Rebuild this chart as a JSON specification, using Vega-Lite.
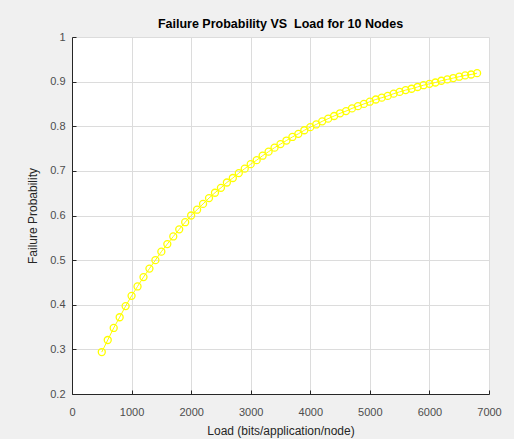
{
  "$schema": "https://vega.github.io/schema/vega-lite/v6.json",
  "autosize": "none",
  "padding": {"left": 72, "top": 37, "right": 25, "bottom": 45},
  "width": 417,
  "height": 357,
  "background": "#f0f0f0",
  "title": {
    "text": "Failure Probability VS\u00a0 Load for 10 Nodes",
    "font": "Liberation Sans",
    "fontSize": 12.5,
    "fontWeight": "bold",
    "color": "#000000",
    "anchor": "middle",
    "offset": 1
  },
  "config": {
    "view": {"fill": "#ffffff", "stroke": null},
    "axis": {
      "labelFont": "Liberation Sans",
      "titleFont": "Liberation Sans",
      "labelFontSize": 11,
      "titleFontSize": 12,
      "titleFontWeight": "normal",
      "labelColor": "#4d4d4d",
      "titleColor": "#262626",
      "domainColor": "#262626",
      "domainWidth": 1,
      "tickColor": "#262626",
      "tickSize": -4,
      "labelFlush": false,
      "gridColor": "#dcdcdc",
      "gridWidth": 1
    }
  },
  "data": {
    "values": [
      {"load": 500, "p": 0.294}, {"load": 600, "p": 0.321}, {"load": 700, "p": 0.348},
      {"load": 800, "p": 0.372}, {"load": 900, "p": 0.397}, {"load": 1000, "p": 0.420},
      {"load": 1100, "p": 0.441}, {"load": 1200, "p": 0.462}, {"load": 1300, "p": 0.481},
      {"load": 1400, "p": 0.500}, {"load": 1500, "p": 0.519}, {"load": 1600, "p": 0.536},
      {"load": 1700, "p": 0.553}, {"load": 1800, "p": 0.569}, {"load": 1900, "p": 0.585},
      {"load": 2000, "p": 0.600}, {"load": 2100, "p": 0.613}, {"load": 2200, "p": 0.626},
      {"load": 2300, "p": 0.639}, {"load": 2400, "p": 0.651}, {"load": 2500, "p": 0.662},
      {"load": 2600, "p": 0.674}, {"load": 2700, "p": 0.684}, {"load": 2800, "p": 0.695},
      {"load": 2900, "p": 0.705}, {"load": 3000, "p": 0.715}, {"load": 3100, "p": 0.724},
      {"load": 3200, "p": 0.734}, {"load": 3300, "p": 0.743}, {"load": 3400, "p": 0.752},
      {"load": 3500, "p": 0.760}, {"load": 3600, "p": 0.768}, {"load": 3700, "p": 0.776},
      {"load": 3800, "p": 0.783}, {"load": 3900, "p": 0.791}, {"load": 4000, "p": 0.798},
      {"load": 4100, "p": 0.804}, {"load": 4200, "p": 0.811}, {"load": 4300, "p": 0.817},
      {"load": 4400, "p": 0.823}, {"load": 4500, "p": 0.829}, {"load": 4600, "p": 0.834},
      {"load": 4700, "p": 0.840}, {"load": 4800, "p": 0.845}, {"load": 4900, "p": 0.850},
      {"load": 5000, "p": 0.855}, {"load": 5100, "p": 0.860}, {"load": 5200, "p": 0.864},
      {"load": 5300, "p": 0.868}, {"load": 5400, "p": 0.873}, {"load": 5500, "p": 0.877},
      {"load": 5600, "p": 0.881}, {"load": 5700, "p": 0.884}, {"load": 5800, "p": 0.888},
      {"load": 5900, "p": 0.892}, {"load": 6000, "p": 0.895}, {"load": 6100, "p": 0.898},
      {"load": 6200, "p": 0.902}, {"load": 6300, "p": 0.905}, {"load": 6400, "p": 0.908},
      {"load": 6500, "p": 0.911}, {"load": 6600, "p": 0.914}, {"load": 6700, "p": 0.916},
      {"load": 6800, "p": 0.919}
    ]
  },
  "mark": {
    "type": "line",
    "color": "#ffff00",
    "strokeWidth": 1,
    "point": {"shape": "circle", "filled": false, "size": 49, "stroke": "#ffff00", "strokeWidth": 1.3}
  },
  "encoding": {
    "x": {
      "field": "load",
      "type": "quantitative",
      "scale": {"domain": [0, 7000], "nice": false, "zero": false},
      "axis": {"values": [0, 1000, 2000, 3000, 4000, 5000, 6000, 7000], "format": "d", "labelPadding": 16, "titlePadding": 8, "title": "Load (bits/application/node)"}
    },
    "y": {
      "field": "p",
      "type": "quantitative",
      "scale": {"domain": [0.2, 1], "nice": false, "zero": false},
      "axis": {"values": [0.2, 0.3, 0.4, 0.5, 0.6, 0.7, 0.8, 0.9, 1], "format": "~g", "labelPadding": 11, "titlePadding": 10, "title": "Failure Probability"}
    }
  }
}
